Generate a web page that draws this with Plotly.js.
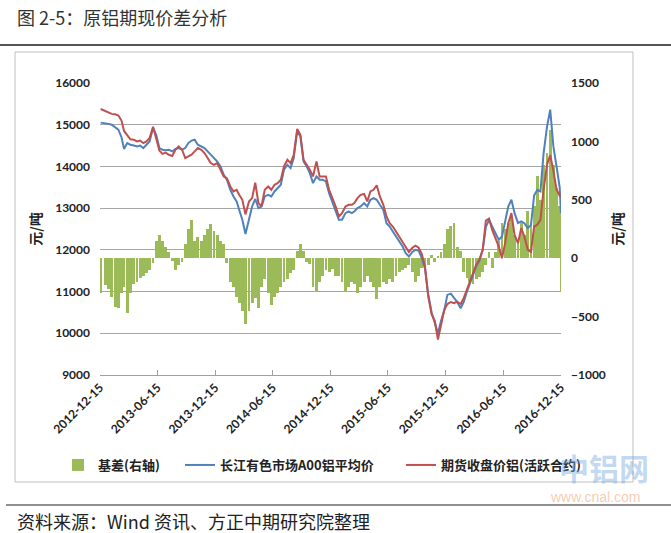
<!DOCTYPE html>
<html>
<head>
<meta charset="utf-8">
<script src="https://cdn.plot.ly/plotly-3.0.1.min.js"></script>
<style>
html,body{margin:0;padding:0;background:#fff;}
#chart{width:671px;height:533px;}
</style>
</head>
<body>
<div id="chart"></div>
<script>
// sample dates (about every 10 days)
const dates = [
"2012-12-17",
"2013-01-01","2013-01-11","2013-01-21","2013-02-01","2013-02-11","2013-02-21","2013-03-01","2013-03-11","2013-03-21",
"2013-04-01","2013-04-11","2013-04-21","2013-05-01","2013-05-11","2013-05-21","2013-06-01","2013-06-11","2013-06-21",
"2013-07-01","2013-07-11","2013-07-21","2013-08-01","2013-08-11","2013-08-21","2013-09-01","2013-09-11","2013-09-21",
"2013-10-01","2013-10-11","2013-10-21","2013-11-01","2013-11-11","2013-11-21","2013-12-01","2013-12-11","2013-12-21",
"2014-01-01","2014-01-11","2014-01-21","2014-02-01","2014-02-11","2014-02-21","2014-03-01","2014-03-11","2014-03-21",
"2014-04-01","2014-04-11","2014-04-21","2014-05-01","2014-05-11","2014-05-21","2014-06-01","2014-06-11","2014-06-21",
"2014-07-01","2014-07-11","2014-07-21","2014-08-01","2014-08-11","2014-08-21","2014-09-01","2014-09-11","2014-09-21",
"2014-10-01","2014-10-11","2014-10-21","2014-11-01","2014-11-11","2014-11-21","2014-12-01","2014-12-11","2014-12-21",
"2015-01-01","2015-01-11","2015-01-21","2015-02-01","2015-02-11","2015-02-21","2015-03-01","2015-03-11","2015-03-21",
"2015-04-01","2015-04-11","2015-04-21","2015-05-01","2015-05-11","2015-05-21","2015-06-01","2015-06-11","2015-06-21",
"2015-07-01","2015-07-11","2015-07-21","2015-08-01","2015-08-11","2015-08-21","2015-09-01","2015-09-11","2015-09-21",
"2015-10-01","2015-10-11","2015-10-21","2015-11-01","2015-11-11","2015-11-21","2015-12-01","2015-12-11","2015-12-21",
"2016-01-01","2016-01-11","2016-01-21","2016-02-01","2016-02-11","2016-02-21","2016-03-01","2016-03-11","2016-03-21",
"2016-04-01","2016-04-11","2016-04-21","2016-05-01","2016-05-11","2016-05-21","2016-06-01","2016-06-11","2016-06-21",
"2016-07-01","2016-07-11","2016-07-21","2016-08-01","2016-08-11","2016-08-21","2016-09-01","2016-09-11","2016-09-21",
"2016-10-01","2016-10-11","2016-10-21","2016-11-01","2016-11-11","2016-11-21","2016-12-01","2016-12-11","2016-12-15"
];

// 长江有色市场A00铝平均价 (元/吨)
const spotPrice = [
15050,
15040,15020,15000,14930,14880,14700,14420,14560,14520,
14500,14480,14500,14440,14520,14600,14920,14760,14440,
14400,14390,14400,14360,14420,14440,14400,14440,14560,
14620,14640,14520,14480,14440,14360,14280,14200,14120,
14000,13800,13680,13440,13280,13160,12960,12720,12380,
12720,13040,13220,13000,13040,13280,13320,13280,13400,
13480,13560,13920,14040,13960,14200,14850,14720,14120,
14000,13840,13600,13760,13680,13680,13640,13360,13160,
12920,12720,12720,12880,12920,12880,12920,13000,13040,
13120,13040,13200,13240,13200,13080,12960,12640,12560,
12440,12320,12200,12080,11920,11840,11950,12000,11980,
11800,11550,10950,10500,10250,10000,10300,10550,10920,
10950,10850,10750,10600,10750,11000,11200,11400,11600,
11750,12000,12550,12720,12560,12400,12240,12320,12720,
13040,13200,12880,12640,12680,12640,12520,12600,13300,
13440,13400,14320,14960,15360,14480,14000,13500,12880
];

// 期货收盘价铝(活跃合约) (元/吨)
const futuresPrice = [
15376,
15320,15290,15260,15250,15220,15100,14850,14750,14650,
14640,14600,14620,14560,14600,14680,14950,14650,14380,
14300,14330,14280,14250,14400,14480,14400,14200,14240,
14280,14360,14440,14400,14320,14200,14080,14040,14080,
13920,13760,13720,13520,13400,13440,13320,13200,12850,
13160,13240,13610,13120,13050,13440,13520,13440,13560,
13600,13680,14000,14160,14080,14280,14900,14760,14160,
14040,13920,13760,14120,13760,13760,13760,13440,13260,
13040,12800,12880,13040,13080,13080,13120,13240,13320,
13340,13160,13400,13440,13550,13280,13080,12800,12640,
12560,12440,12320,12200,12050,11950,12050,12100,12050,
11900,11600,10900,10450,10300,9850,10250,10560,10700,
10750,10720,10760,10700,10850,11050,11250,11440,11640,
11780,12000,12700,12750,12480,12300,12080,11800,12160,
12640,12880,12350,12160,12520,12320,12000,11950,12560,
12600,12720,13450,14050,14270,13900,13450,13300,13300
];

// 基差 (右轴, 元/吨)
const basis = [
-300,
-230,-260,-330,-420,-430,-300,-250,-470,-300,
-220,-200,-170,-150,-130,-100,-40,150,200,
150,100,50,-20,-100,-60,-30,120,250,
330,150,180,150,200,250,290,230,200,
150,120,-40,-200,-250,-330,-380,-450,-560,
-450,-380,-340,-430,-250,-180,-300,-400,-330,
-300,-250,-200,-180,-130,-100,60,120,60,
-30,-50,-250,-280,-200,-150,-100,-120,-90,
-150,-150,-200,-280,-250,-200,-220,-300,-250,
-200,-150,-200,-250,-350,-250,-200,-220,-180,
-200,-150,-120,-100,-80,-60,-120,-200,-150,
-80,-100,-60,30,-30,20,50,120,250,
280,300,100,60,-120,-170,-200,-220,-180,
-160,-120,-60,50,-80,50,150,300,250,
300,350,200,150,300,200,400,300,450,
700,500,800,900,1100,800,600,450,-280
];

const tickDates = ["2012-12-15","2013-06-15","2013-12-15","2014-06-15","2014-12-15","2015-06-15","2015-12-15","2016-06-15","2016-12-15"];

const seriesNames = ["基差(右轴)","长江有色市场A00铝平均价","期货收盘价铝(活跃合约)"];
const colors = {basis:"#9BBB59", spot:"#4F81BD", fut:"#C0504D"};

// pixel helpers for paper coordinates
const W = 671, H = 533, L = 100, R = 110, T = 83, B = 158;
const pw = W - L - R, ph = H - T - B;
const px = x => (x - L) / pw;
const py = y => (H - B - y) / ph;
const DAY = 86400000;

const cjk = '"Noto Sans CJK SC", "Noto Sans", sans-serif';
const num = 'Lato, "Liberation Sans", sans-serif';

const traces = [
  {type:"bar", x:dates, y:basis, name:seriesNames[0], xaxis:"x", yaxis:"y", width:9 * DAY,
   marker:{color:colors.basis, line:{width:0}}, legend:"legend"},
  {type:"scatter", mode:"lines", x:dates, y:spotPrice, name:seriesNames[1], xaxis:"x", yaxis:"y2",
   line:{color:colors.spot, width:2}, legend:"legend2"},
  {type:"scatter", mode:"lines", x:dates, y:futuresPrice, name:seriesNames[2], xaxis:"x", yaxis:"y2",
   line:{color:colors.fut, width:2}, legend:"legend3"}
];

const legendBase = {orientation:"h", yanchor:"middle", y:py(465), xanchor:"left",
  font:{family:cjk, size:13, color:"#222", weight:"bold"}, bgcolor:"rgba(0,0,0,0)", itemwidth:30};

const layout = {
  width:W, height:H,
  margin:{l:L, r:R, t:T, b:B, pad:0},
  paper_bgcolor:"#fff", plot_bgcolor:"#fff",
  bargap:0,
  showlegend:true,
  xaxis:{type:"date", range:["2012-12-14 20:00","2016-12-15 04:00"],
    tickmode:"array", tickvals:tickDates, ticktext:tickDates, tickangle:-45,
    ticks:"inside", ticklen:5, tickcolor:"#a0a0a0", showline:true, linecolor:"#a0a0a0", linewidth:1,
    showgrid:false, zeroline:false, tickfont:{family:num, size:12, color:"#222", weight:"bold"}},
  yaxis:{side:"right", range:[-1000,1500], tick0:0, dtick:500, tickformat:"d", showgrid:false, zeroline:false,
    showline:false, ticks:"", ticklabelstandoff:9,
    tickfont:{family:num, size:12, color:"#222", weight:"bold"},
    title:{text:"元/吨", font:{family:cjk, size:14, color:"#222", weight:"bold"}, standoff:8}},
  yaxis2:{overlaying:"y", side:"left", range:[9000,16000], dtick:1000, tickformat:"d", showgrid:true,
    gridcolor:"#a6a6a6", gridwidth:1, zeroline:false, showline:false, ticks:"", ticklabelstandoff:9,
    tickfont:{family:num, size:12, color:"#222", weight:"bold"},
    title:{text:"元/吨", font:{family:cjk, size:14, color:"#222", weight:"bold"}, standoff:10}},
  legend:Object.assign({}, legendBase, {x:px(58)}),
  legend2:Object.assign({}, legendBase, {x:px(180)}),
  legend3:Object.assign({}, legendBase, {x:px(401)}),
  shapes:[
    {type:"line", xref:"paper", yref:"paper", x0:px(0), x1:px(671), y0:py(45), y1:py(45), line:{color:"#555", width:2}},
    {type:"rect", xref:"paper", yref:"paper", x0:px(15), x1:px(633), y0:py(482), y1:py(52), line:{color:"#bfbfbf", width:1}},
    {type:"line", xref:"paper", yref:"paper", x0:px(6), x1:px(671), y0:py(505), y1:py(505), line:{color:"#222", width:1.2}}
  ],
  annotations:[
    {text:"图 2-5：原铝期现价差分析", xref:"paper", yref:"paper", x:px(15), y:py(17.5), xanchor:"left", yanchor:"middle",
     showarrow:false, font:{family:cjk, size:18, color:"#333"}},
    {text:"资料来源：Wind 资讯、方正中期研究院整理", xref:"paper", yref:"paper", x:px(15), y:py(521), xanchor:"left", yanchor:"middle",
     showarrow:false, font:{family:cjk, size:18, color:"#222"}},
    {text:"中铝网", xref:"paper", yref:"paper", x:px(604), y:py(467), xanchor:"center", yanchor:"middle",
     showarrow:false, font:{family:cjk, size:30, color:"rgba(120,170,225,0.45)", weight:"bold"}},
    {text:"www.cnal.com", xref:"paper", yref:"paper", x:px(595), y:py(497), xanchor:"center", yanchor:"middle",
     showarrow:false, font:{family:'"Liberation Sans", sans-serif', size:14, color:"rgba(240,160,110,0.55)"}}
  ]
};

Plotly.newPlot("chart", traces, layout, {displayModeBar:false, staticPlot:true});
</script>
</body>
</html>
